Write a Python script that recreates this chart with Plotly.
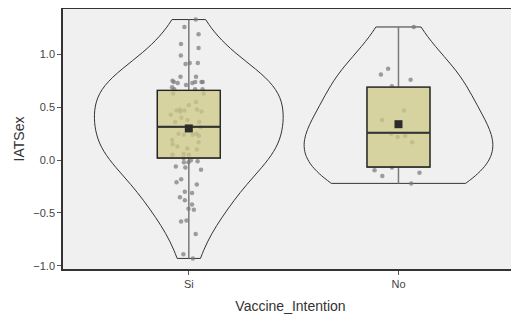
import plotly.graph_objects as go
import numpy as np

categories = ["Si", "No"]

si_values = [1.33, 1.26, 1.19, 1.10, 1.06, 0.99, 0.92, 0.92, 0.91, 0.79, 0.79, 0.75,
             0.74, 0.74, 0.74, 0.74, 0.73, 0.73, 0.71, 0.69, 0.67, 0.67, 0.67,
             0.63, 0.63, 0.55, 0.52, 0.48, 0.48, 0.47, 0.47, 0.46, 0.46,
             0.43, 0.40, 0.38, 0.36, 0.36, 0.31, 0.31, 0.25, 0.25, 0.24,
             0.24, 0.23, 0.19, 0.17, 0.15, 0.13, 0.11, 0.10, 0.06, 0.05,
             0.05, 0.02, 0.00, -0.01, -0.02, -0.02, -0.06, -0.07, -0.09, -0.18, -0.21,
             -0.23, -0.30, -0.31, -0.35, -0.38, -0.42, -0.46, -0.47, -0.57, -0.58,
             -0.70, -0.89, -0.93]
no_values = [1.26, 0.865, 0.81, 0.76, 0.70, 0.47, 0.38, 0.25, 0.23, 0.22, 0.17,
             -0.07, -0.095, -0.12, -0.15, -0.22]

# box statistics
q1 = [0.02, -0.065]
median = [0.315, 0.26]
q3 = [0.66, 0.69]
lower_whisker = [-0.93, -0.22]
upper_whisker = [1.33, 1.26]
means = [0.30, 0.34]

y_ticks = [-1.0, -0.5, 0.0, 0.5, 1.0]

groups = [si_values, no_values]
xpos = [0, 1]


def bandwidth(v):
    v = np.asarray(v)
    sd = v.std(ddof=1)
    iqr = np.subtract(*np.percentile(v, [75, 25]))
    return 1.25 * 0.9 * min(sd, iqr / 1.34) * len(v) ** (-0.2)


fig = go.Figure()

# violins
for xi, vals in zip(xpos, groups):
    fig.add_trace(go.Violin(
        x=[xi] * len(vals), y=vals, width=0.9, scalemode="width",
        spanmode="hard", bandwidth=bandwidth(vals), points=False,
        fillcolor="rgba(0,0,0,0)", line=dict(color="#333333", width=1),
        box_visible=False, meanline_visible=False, hoverinfo="skip",
        showlegend=False))

# jittered points (hidden box)
for xi, vals in zip(xpos, groups):
    fig.add_trace(go.Box(
        x=[xi] * len(vals), y=vals, width=0.3, boxpoints="all", jitter=0.9,
        pointpos=0, fillcolor="rgba(0,0,0,0)",
        line=dict(color="rgba(0,0,0,0)", width=0),
        marker=dict(color="rgba(120,120,120,0.7)", size=4.5),
        showlegend=False, hoverinfo="skip"))

# whiskers (gray)
fig.add_trace(go.Box(
    x=xpos, q1=q1, median=median, q3=q3, lowerfence=lower_whisker,
    upperfence=upper_whisker, width=0.3, whiskerwidth=0,
    fillcolor="rgba(0,0,0,0)", line=dict(color="#7a7a7a", width=1.5),
    showlegend=False, hoverinfo="skip"))

# box (black outline, khaki fill)
fig.add_trace(go.Box(
    x=xpos, q1=q1, median=median, q3=q3, lowerfence=q1, upperfence=q3,
    width=0.3, whiskerwidth=0, fillcolor="rgba(205,201,135,0.75)",
    line=dict(color="#222222", width=1.3), showlegend=False, hoverinfo="skip"))

# median line thicker
for xi, m in zip(xpos, median):
    fig.add_trace(go.Scatter(
        x=[xi - 0.15, xi + 0.15], y=[m, m], mode="lines",
        line=dict(color="#333333", width=2), showlegend=False, hoverinfo="skip"))

# means
fig.add_trace(go.Scatter(
    x=xpos, y=means, mode="markers",
    marker=dict(symbol="square", color="#2b2b2b", size=8),
    showlegend=False, hoverinfo="skip"))

fig.update_layout(
    width=511, height=308,
    margin=dict(l=55, r=1, t=1, b=47),
    paper_bgcolor="white", plot_bgcolor="#f0f0f0",
    violinmode="overlay", boxmode="overlay",
    font=dict(family="Liberation Sans, Arial, sans-serif", color="#333333"),
)
fig.update_xaxes(
    range=[-0.6, 1.57], tickvals=xpos, ticktext=categories, automargin=False,
    showgrid=False, zeroline=False, showline=True, linecolor="#333333",
    linewidth=1.5, mirror=True, ticks="outside", ticklen=4, tickcolor="#555555",
    tickfont=dict(size=11, color="#444444"),
    title=dict(text="Vaccine_Intention", font=dict(size=14, color="#333333"), standoff=12))
fig.update_yaxes(
    range=[-1.03, 1.43], tickvals=y_ticks, tickformat=".1f", automargin=False,
    showgrid=False, zeroline=False, showline=True, linecolor="#333333",
    linewidth=1.5, ticks="outside", ticklen=4, tickcolor="#555555",
    tickfont=dict(size=11, color="#444444"),
    title=dict(text="IATSex", font=dict(size=14, color="#333333"), standoff=5))

fig.write_html("out.html")
